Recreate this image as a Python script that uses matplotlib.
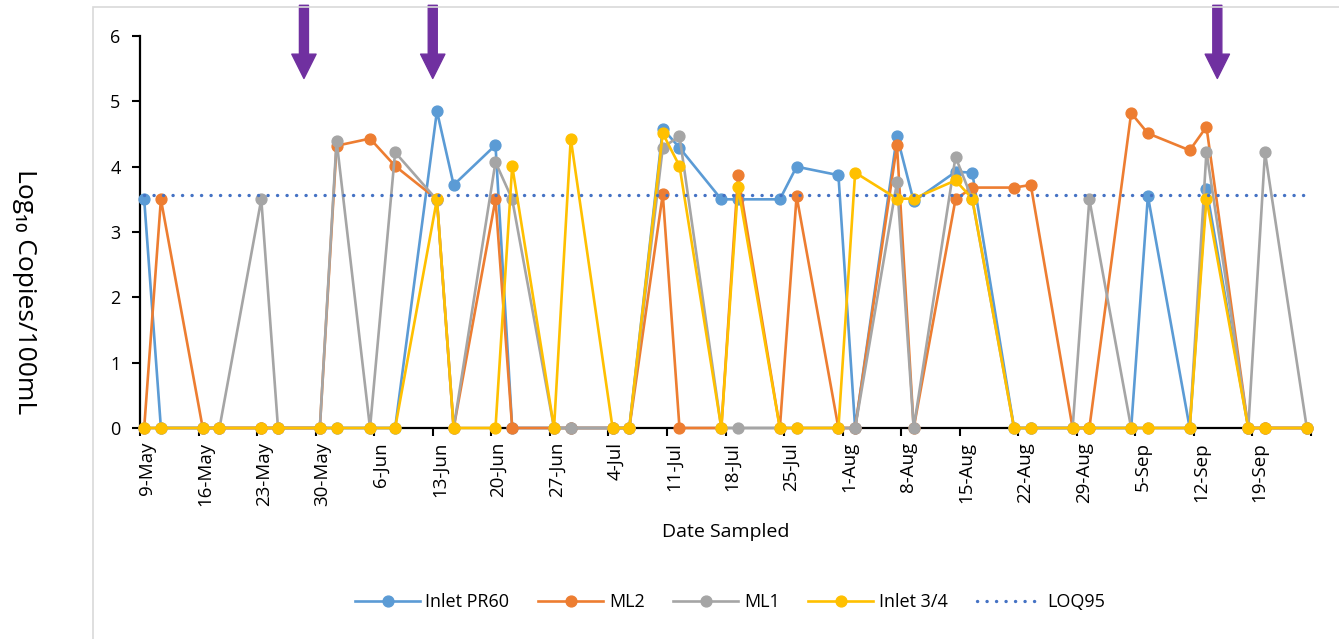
import numpy as np
import pandas as pd
import matplotlib
matplotlib.use("Agg")
import matplotlib.pyplot as plt
from matplotlib.patches import Rectangle

plt.rcParams['font.family'] = ['Open Sans', 'DejaVu Sans']

# sample dates (days since 9-May)
sample_days = [0, 2, 7, 9, 14, 16, 21, 23, 27, 30, 35, 37, 42, 44, 49, 51, 56, 58, 62, 64,
               69, 71, 76, 78, 83, 85, 90, 92, 97, 99, 104, 106, 111, 113, 118, 120, 125, 127,
               132, 134, 139]

inlet_pr60 = [3.5, 0, 0, 0, 0, 0, 0, 0, 0, 0, 4.85, 3.72, 4.33, 0, 0, 0, 0, 0, 4.58, 4.29,
              3.5, 3.5, 3.5, 4.0, 3.87, 0, 4.47, 3.47, 3.92, 3.91, 0, 0, 0, 0, 0, 3.55, 0, 3.66,
              0, 0, 0]
ml2 = [0, 3.5, 0, 0, 0, 0, 0, 4.32, 4.43, 4.01, 3.5, 0, 3.5, 0, 0, 0, 0, 0, 3.58, 0,
       0, 3.87, 0, 3.55, 0, 0, 4.33, 0, 3.5, 3.68, 3.68, 3.72, 0, 0, 4.82, 4.51, 4.25, 4.61,
       0, 0, 0]
ml1 = [0, 0, 0, 0, 3.5, 0, 0, 4.4, 0, 4.22, 3.49, 0, 4.07, 3.5, 0, 0, 0, 0, 4.29, 4.47,
       0, 0, 0, 0, 0, 0, 3.76, 0, 4.15, 3.5, 0, 0, 0, 3.5, 0, 0, 0, 4.23,
       0, 4.22, 0]
inlet_34 = [0, 0, 0, 0, 0, 0, 0, 0, 0, 0, 3.5, 0, 0, 4.01, 0, 4.43, 0, 0, 4.51, 4.01,
            0, 3.69, 0, 0, 0, 3.91, 3.51, 3.51, 3.79, 3.51, 0, 0, 0, 0, 0, 0, 0, 3.51,
            0, 0, 0]
loq95 = 3.56

start = pd.Timestamp("2022-05-09")
end = pd.Timestamp("2022-09-26")
dates = start + pd.to_timedelta(sample_days, unit="D") + pd.Timedelta(hours=12)
arrow_days = [19.6, 35.0, 128.8]

fig = plt.figure(figsize=(13.39, 6.39), dpi=100)
ax = fig.add_axes([140/1339, 1 - 428/639, (1311 - 140)/1339, (428 - 36)/639])

series = [("Inlet PR60", inlet_pr60, "#5B9BD5"),
          ("ML2", ml2, "#ED7D31"),
          ("ML1", ml1, "#A5A5A5"),
          ("Inlet 3/4", inlet_34, "#FFC000")]
for name, vals, col in series:
    ax.plot(dates, vals, color=col, lw=1.9, marker="o", ms=7.8, label=name, clip_on=False, zorder=3)

ax.plot(dates, [loq95] * len(dates), color="#4472C4", lw=2.4, linestyle=(0, (0.05, 2.8)),
        dash_capstyle="round", label="LOQ95", zorder=4)

ax.set_xlim(start, end)
ax.set_ylim(0, 6)
ticks = pd.date_range(start, end, freq="7D")
ax.set_xticks(ticks)
ax.set_xticklabels([])
# labels sit a little right of the week ticks, like Excel
label_pos = ticks[:-1] + pd.Timedelta(hours=20)
ax.set_xticks(label_pos, minor=True)
ax.set_xticklabels([f"{d.day}-{d:%b}" for d in ticks[:-1]], minor=True, rotation=90, fontsize=13.5)
ax.tick_params(axis="x", which="minor", length=0, pad=10)
ax.set_yticks(range(7))
ax.tick_params(axis="y", labelsize=13, length=6, width=1.5, direction="out", pad=8)
ax.tick_params(axis="x", which="major", length=6, width=1.5, direction="out")
for s in ["top", "right"]:
    ax.spines[s].set_visible(False)
for s in ["left", "bottom"]:
    ax.spines[s].set_linewidth(1.6)
ax.set_xlabel("Date Sampled", fontsize=14, labelpad=12)

for d in arrow_days:
    x = start + pd.Timedelta(days=d)
    ax.annotate("", xy=(x, 5.35), xytext=(x, 6.47), annotation_clip=False,
                arrowprops=dict(arrowstyle="simple,head_length=1.75,head_width=1.75,tail_width=0.65",
                                mutation_scale=10, color="#7030A0", shrinkA=0, shrinkB=0))

fig.text(24/1339, 1 - 292/639, "Log₁₀ Copies/100mL", rotation=270, ha="center", va="center", fontsize=19)

fig.patches.append(Rectangle((93/1339, -0.1), 1.2, 1 - 7/639 + 0.1, transform=fig.transFigure,
                             fill=False, edgecolor="#D9D9D9", lw=1.2))

fig.legend(loc="center", bbox_to_anchor=(730/1339, 1 - 602/639), ncol=5, frameon=False,
           fontsize=13, handlelength=3.6, columnspacing=1.6, handletextpad=0.3)

fig.savefig("out.png", dpi=100)
